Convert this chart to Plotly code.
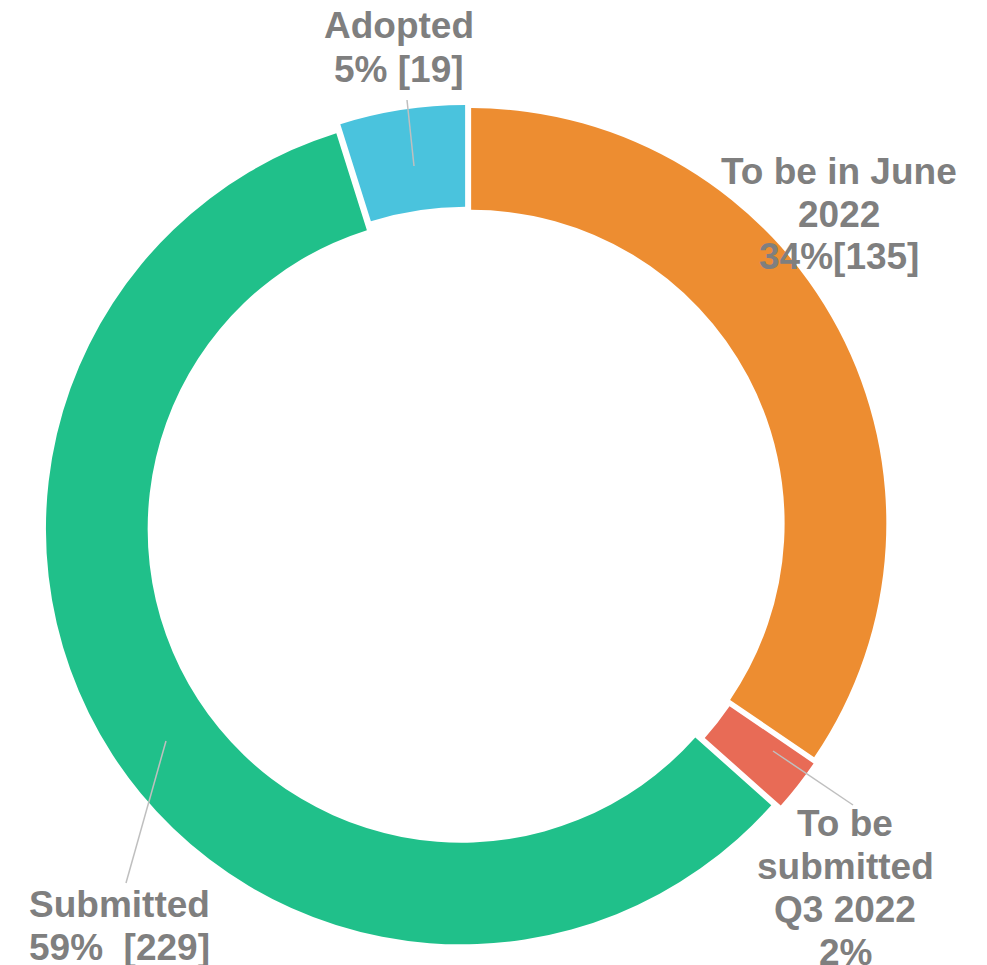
import plotly.graph_objects as go

labels = ["To be in June 2022", "To be submitted Q3 2022", "Submitted", "Adopted"]
values = [135, 8, 229, 19]
colors = ["#ED8D31", "#E86B56", "#20C08A", "#4AC3DD"]
label_lines = [
    ["To be in June", "2022", "34%[135]"],
    ["To be", "submitted", "Q3 2022", "2%"],
    ["Submitted", "59%  [229]"],
    ["Adopted", "5% [19]"],
]

W, H = 987, 965

def px(x, y):
    return x / W, 1 - y / H

fig = go.Figure(go.Pie(
    labels=labels, values=values, sort=False, direction="clockwise", rotation=0,
    hole=0.755, pull=[0.014] * 4,
    marker=dict(colors=colors, line=dict(width=0)),
    textinfo="none", hoverinfo="label+value+percent", showlegend=False,
    domain=dict(x=[37 / W, 879 / W], y=[1 - 939 / H, 1 - 97 / H]),
))

font = dict(family="Liberation Sans, Arial, sans-serif", size=37, color="#7F7F7F")
# (center x, first-line center y, line step) in pixels
label_pos = [(831, 163, 43), (837, 815, 43), (111, 896, 43), (391, 18, 44)]
for lines, (x, y0, step) in zip(label_lines, label_pos):
    for i, t in enumerate(lines):
        xp, yp = px(x, y0 + i * step)
        fig.add_annotation(x=xp, y=yp, xref="paper", yref="paper", text="<b>" + t + "</b>",
                           showarrow=False, font=font, align="center",
                           xanchor="center", yanchor="middle")

leaders = [((399, 92), (406, 158)), ((765, 743), (845, 797)), ((158, 733), (118, 875))]
for (a, b) in leaders:
    x0, y0 = px(*a)
    x1, y1 = px(*b)
    fig.add_shape(type="line", xref="paper", yref="paper", x0=x0, y0=y0, x1=x1, y1=y1,
                  line=dict(color="#BFBFBF", width=1.5))

fig.update_layout(width=W, height=H, margin=dict(l=0, r=0, t=0, b=0),
                  paper_bgcolor="white", plot_bgcolor="white")
fig.write_html("out.html")
